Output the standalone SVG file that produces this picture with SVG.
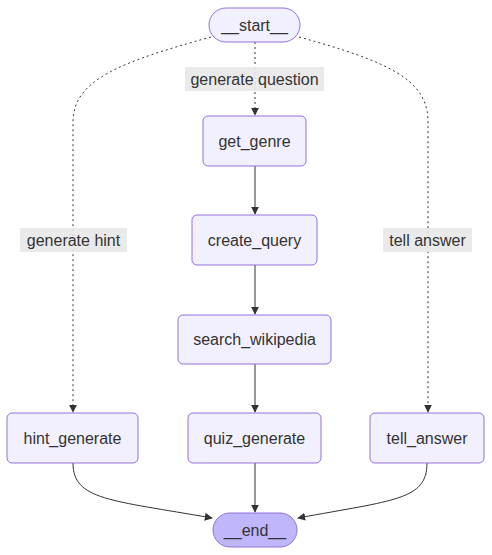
<svg xmlns="http://www.w3.org/2000/svg" width="492" height="555" viewBox="0 0 492 555">
<defs>
<marker id="arr" viewBox="0 0 10 10" refX="9" refY="5" markerWidth="8" markerHeight="8" markerUnits="userSpaceOnUse" orient="auto">
<path d="M0,0 L10,5 L0,10 z" fill="#333333"/>
</marker>
<style>
.node rect{fill:#F2F0FF;stroke:#9370DB;stroke-width:1}
.node.end rect{fill:#BFB6FC}
.t{font-family:"Liberation Sans",Arial,sans-serif;font-size:16px;fill:#333333;text-anchor:middle;dominant-baseline:central}
.e{fill:none;stroke:#333333;stroke-width:1}
.d{stroke-dasharray:2 3}
.lb{fill:#e8e8e8;opacity:0.9}
</style>
</defs>
<rect width="492" height="555" fill="#ffffff"/>
<g id="connectors">
<path class="e d" d="M211,37 C120,62 73,80 73,122 L73,412" marker-end="url(#arr)"/>
<path class="e d" d="M255,42 L255,115" marker-end="url(#arr)"/>
<path class="e d" d="M299,37 C390,62 428,80 428,122 L428,412" marker-end="url(#arr)"/>
<path class="e" d="M255,166 L255,214" marker-end="url(#arr)"/>
<path class="e" d="M255,265 L255,314" marker-end="url(#arr)"/>
<path class="e" d="M255,364 L255,412" marker-end="url(#arr)"/>
<path class="e" d="M255,463 L255,512" marker-end="url(#arr)"/>
<path class="e" d="M73,463 C73,500 110,500 212,518" marker-end="url(#arr)"/>
<path class="e" d="M427,463 C427,500 395,500 298,518" marker-end="url(#arr)"/>
<g id="edge-labels">
<rect class="lb" x="185" y="67" width="139" height="24"/>
<text class="t" x="254.5" y="79">generate question</text>
<rect class="lb" x="20" y="228" width="107" height="24"/>
<text class="t" x="73.5" y="240">generate hint</text>
<rect class="lb" x="383" y="228" width="89" height="24"/>
<text class="t" x="427.5" y="240">tell answer</text>
</g>
</g>
<g id="start" class="node"><rect x="209" y="8" width="91" height="34" rx="17"/><text class="t" x="254.5" y="25">__start__</text></g>
<g id="get_genre" class="node"><rect x="203" y="116" width="103" height="50" rx="5"/><text class="t" x="254.5" y="141">get_genre</text></g>
<g id="create_query" class="node"><rect x="192" y="215" width="125" height="50" rx="5"/><text class="t" x="254.5" y="240">create_query</text></g>
<g id="search_wikipedia" class="node"><rect x="178" y="315" width="153" height="49" rx="5"/><text class="t" x="254.5" y="339.5">search_wikipedia</text></g>
<g id="hint_generate" class="node"><rect x="7" y="413" width="131" height="50" rx="5"/><text class="t" x="72.5" y="438">hint_generate</text></g>
<g id="quiz_generate" class="node"><rect x="188" y="413" width="133" height="50" rx="5"/><text class="t" x="254.5" y="438">quiz_generate</text></g>
<g id="tell_answer" class="node"><rect x="370" y="413" width="114" height="50" rx="5"/><text class="t" x="427" y="438">tell_answer</text></g>
<g id="end" class="node end"><rect x="213" y="513" width="84" height="34" rx="17"/><text class="t" x="255" y="530">__end__</text></g>
</svg>
